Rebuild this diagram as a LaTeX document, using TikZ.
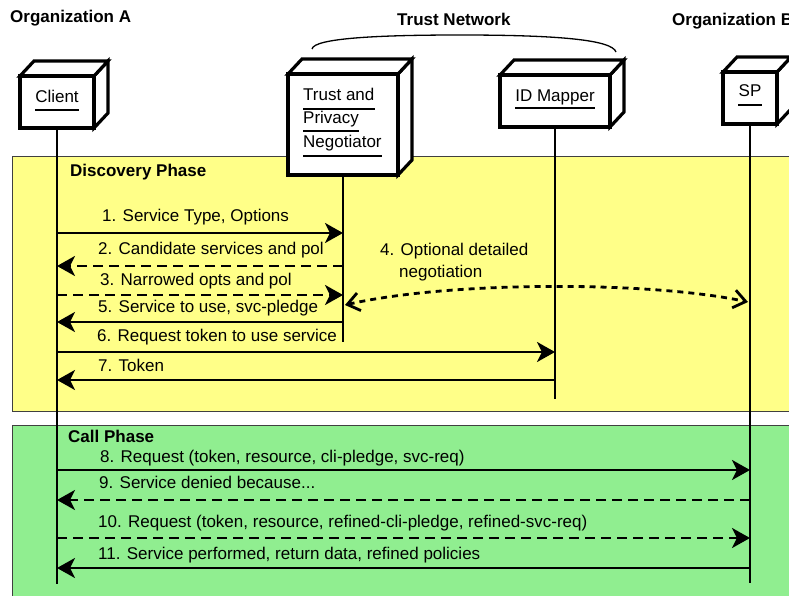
\documentclass[tikz,border=0pt]{standalone}
\usepackage{fontspec}
\setmainfont{Liberation Sans}
\usetikzlibrary{arrows.meta,calc}
\definecolor{discyel}{HTML}{FFFF88}
\definecolor{callgrn}{HTML}{90EE90}
\newcommand\cube[5]{% name, x, y, w, h
  \draw[cubeline] (#2+#4,#3) -- ++(14,-15) -- ++(0,#5) -- ++(-14,15) -- cycle;
  \draw[cubeline] (#2,#3) -- ++(14,-15) -- ++(#4,0) -- ++(-14,15) -- cycle;
  \node[cubeface, minimum width=#4pt, minimum height=#5pt, anchor=north west] (#1) at (#2,#3) {};
}
\begin{document}
\begin{tikzpicture}[x=1pt,y=-1pt,
  every node/.style={font=\fontsize{17}{20}\selectfont, inner sep=0pt},
  lbl/.style={anchor=base west},
  hdr/.style={anchor=base west, font=\fontsize{17}{20}\selectfont\bfseries},
  cubeline/.style={draw=black, fill=white, line width=3.2pt, line join=miter},
  cubeface/.style={draw=black, fill=white, line width=3.2pt, inner sep=0pt, outer sep=0pt},
  lifeline/.style={line width=2.8pt},
  msg/.style={line width=2.8pt, -{Stealth[length=18pt,width=20pt,inset=5pt]}},
  dmsg/.style={msg, dash pattern=on 10pt off 6pt},
  uline/.style={line width=1.4pt},
  frame/.style={draw=black!75, line width=1.3pt, inner sep=0pt, anchor=north west}
]
\useasboundingbox (0,0) rectangle (789,596);
\clip (0,0) rectangle (789,596);

% phase frames
\node[frame, fill=discyel, minimum width=800pt, minimum height=255pt] (disc) at (12,156) {};
\node[frame, fill=callgrn, minimum width=800pt, minimum height=200pt] (call) at (12,425) {};

% headers
\node[hdr] (orgA) at (10,23) {Organization A};
\node[hdr] (trustnet) at (397,26) {Trust Network};
\node[hdr] (orgB) at (672,26) {Organization B};
\node[hdr] (discT) at (70,176) {Discovery Phase};
\node[hdr] (callT) at (68,442) {Call Phase};
\draw[line width=1.3pt] (312,49) .. controls (314,38) and (380,35) .. (460,35)
  .. controls (560,35) and (612,40) .. (616,52);

% objects
\cube{client}{20}{76}{74}{52}
\cube{tpn}{288}{74}{110}{101}
\cube{idm}{500}{75}{110}{52}
\cube{sp}{723}{72}{54}{52}

\node[anchor=base] (clientT) at (57,103) {Client};
\draw[uline] ([yshift=-7pt]clientT.base west) -- ([yshift=-7pt]clientT.base east);
\node[lbl] (tpn1) at (303,101) {Trust and};
\node[lbl] (tpn2) at (303,124) {Privacy};
\node[lbl] (tpn3) at (303,148) {Negotiator};
\draw[uline] ([yshift=-8pt]tpn1.base west) -- ([yshift=-8pt]tpn1.base east);
\draw[uline] ([yshift=-7pt]tpn2.base west) -- ([yshift=-7pt]tpn2.base east);
\draw[uline] ([yshift=-8pt]tpn3.base west) -- ([yshift=-8pt]tpn3.base east);
\node[anchor=base] (idmT) at (555,102) {ID Mapper};
\draw[uline] ([yshift=-6pt]idmT.base west) -- ([yshift=-6pt]idmT.base east);
\node[anchor=base] (spT) at (750,97) {SP};
\draw[uline] ([yshift=-8pt]spT.base west) -- ([yshift=-8pt]spT.base east);

% lifelines
\coordinate (clientEnd) at (57,584);
\coordinate (tpnEnd) at (343,342);
\coordinate (idmEnd) at (555,399);
\coordinate (spEnd) at (750,583);
\draw[lifeline] (client.south) -- (clientEnd);
\draw[lifeline] (tpn.south) -- (tpnEnd);
\draw[lifeline] (idm.south) -- (idmEnd);
\draw[lifeline] (sp.south) -- (spEnd);

% discovery messages
\draw[msg]  (client.south |- 0,233) -- (tpn.south |- 0,233);
\node[lbl] (m1) at (102,221) {1. Service Type, Options};
\draw[dmsg] (tpn.south |- 0,266) -- (client.south |- 0,266);
\node[lbl] (m2) at (98,254) {2. Candidate services and pol};
\draw[dmsg] (client.south |- 0,295) -- (tpn.south |- 0,295);
\node[lbl] (m3) at (100,285) {3. Narrowed opts and pol};
\draw[msg]  (tpn.south |- 0,322) -- (client.south |- 0,322);
\node[lbl] (m5) at (98,312) {5. Service to use, svc-pledge};
\draw[msg]  (client.south |- 0,352) -- (idm.south |- 0,352);
\node[lbl] (m6) at (97,341) {6. Request token to use service};
\draw[msg]  (idm.south |- 0,380) -- (client.south |- 0,380);
\node[lbl] (m7) at (98,371) {7. Token};

% optional negotiation
\coordinate (n4a) at (345,305);
\coordinate (n4b) at (748,302);
\draw[line width=2.8pt, dash pattern=on 6pt off 5pt,
  {Straight Barb[length=12pt,width=18pt,line width=2.8pt]}-{Straight Barb[length=12pt,width=18pt,line width=2.8pt]}]
  (n4a) .. controls (450,281) and (650,281) .. (n4b);
\node[lbl] (m4a) at (380,255) {4. Optional detailed};
\node[lbl] (m4b) at (399,277) {negotiation};

% call messages
\draw[msg]  (client.south |- 0,470) -- (sp.south |- 0,470);
\node[lbl] (m8) at (100,462) {8. Request (token, resource, cli-pledge, svc-req)};
\draw[dmsg] (sp.south |- 0,500) -- (client.south |- 0,500);
\node[lbl] (m9) at (99,488) {9. Service denied because...};
\draw[dmsg] (client.south |- 0,538) -- (sp.south |- 0,538);
\node[lbl] (m10) at (98,527) {10. Request (token, resource, refined-cli-pledge, refined-svc-req)};
\draw[msg]  (sp.south |- 0,568) -- (client.south |- 0,568);
\node[lbl] (m11) at (98,559) {11. Service performed, return data, refined policies};
\end{tikzpicture}
\end{document}
